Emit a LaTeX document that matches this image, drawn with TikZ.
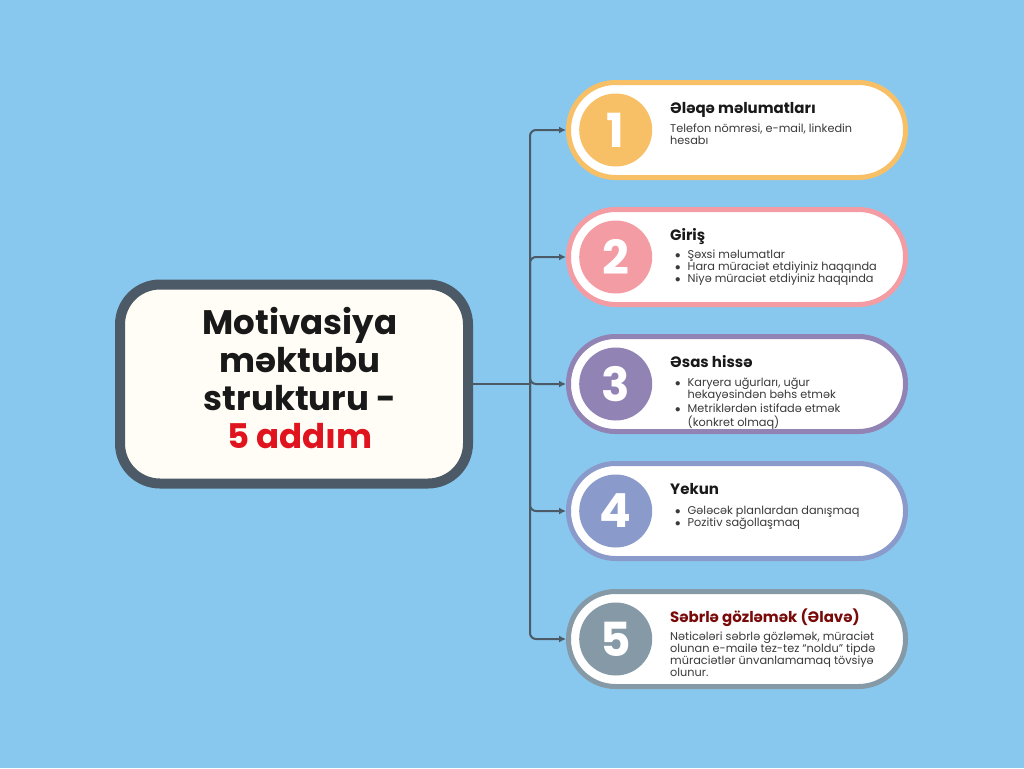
\documentclass[tikz,border=0pt]{standalone}
\usepackage{fontspec}
\setmainfont{Poppins}
\usetikzlibrary{arrows.meta,positioning}
\definecolor{sky}{HTML}{88C8EE}
\definecolor{slate}{HTML}{4B5A66}
\definecolor{cream}{HTML}{FFFDF5}
\definecolor{addred}{HTML}{E0141E}
\definecolor{darkred}{HTML}{7A0A0A}
\definecolor{bodygray}{HTML}{3A3A3A}
\definecolor{cyel}{HTML}{F7C067}
\definecolor{cpink}{HTML}{F39CA3}
\definecolor{cpurple}{HTML}{9283B5}
\definecolor{cblue}{HTML}{8A9ACB}
\definecolor{cgray}{HTML}{8599A6}
\newcommand{\dotitem}{$\bullet$}
\begin{document}
\begin{tikzpicture}[x=1pt, y=-1pt, line join=round, line cap=round,
    mainbox/.style={draw=slate, line width=10pt, fill=cream, rounded corners=40pt,
      minimum width=348pt, minimum height=199pt, inner sep=0pt,
      font=\fontsize{34}{38}\selectfont\bfseries, text=black!90},
    card/.style={draw=#1, line width=5pt, fill=white, rounded corners=47pt,
      minimum width=337pt, minimum height=95pt, inner sep=0pt},
    num/.style={circle, fill=#1, minimum size=73pt, inner sep=0pt, text=white,
      font=\fontsize{47}{47}\selectfont\bfseries},
    ttl/.style={anchor=base west, inner sep=0pt, font=\fontsize{15}{16}\selectfont\bfseries, text=black!90},
    txt/.style={anchor=base west, inner sep=0pt, font=\fontsize{11.3}{12.3}\selectfont, text=bodygray},
    link/.style={draw=slate, line width=2pt}]
  % background
  \fill[sky] (0,0) rectangle (1024,768);
  \useasboundingbox (0,0) rectangle (1024,768);
  % centre box
  \node[mainbox] (main) at (294,384)
    {\hspace{12pt}\begin{tabular}{@{}c@{}}Motivasiya\\məktubu\\strukturu -\\\textcolor{addred}{5 addım}\end{tabular}};
  % cards
  \node[card=cyel] (card1) at (737,130) {};
  \node[card=cpink] (card2) at (737,257) {};
  \node[card=cpurple] (card3) at (737,384) {};
  \node[card=cblue] (card4) at (737,511) {};
  \node[card=cgray] (card5) at (737,639) {};
  \node[num=cyel, right=13pt of card1.west] (num1) {1};
  \node[num=cpink, right=13pt of card2.west] (num2) {2};
  \node[num=cpurple, right=13pt of card3.west] (num3) {3};
  \node[num=cblue, right=13pt of card4.west] (num4) {4};
  \node[num=cgray, right=13pt of card5.west] (num5) {5};
  % titles
  \node[ttl] (ttl1) at ([xshift=104pt, yshift=17pt]card1.west) {Ələqə məlumatları};
  \node[ttl] (ttl2) at ([xshift=104pt, yshift=17pt]card2.west) {Giriş};
  \node[ttl] (ttl3) at ([xshift=104pt, yshift=17pt]card3.west) {Əsas hissə};
  \node[ttl] (ttl4) at ([xshift=104pt, yshift=17pt]card4.west) {Yekun};
  \node[ttl, text=darkred] (ttl5) at ([xshift=104pt, yshift=17pt]card5.west) {Səbrlə gözləmək (Əlavə)};
  % texts
  \node[txt] (txt1) at ([xshift=104pt, yshift=-2pt]card1.west)
    {\begin{tabular}[t]{@{}l@{}}Telefon nömrəsi, e-mail, linkedin\\hesabı\end{tabular}};
  \node[txt] (txt2) at ([xshift=104pt, yshift=-1pt]card2.west)
    {\begin{tabular}[t]{@{\hspace{5pt}}l@{\hspace{7pt}}l@{}}
      \dotitem & Şəxsi məlumatlar\\
      \dotitem & Hara müraciət etdiyiniz haqqında\\
      \dotitem & Niyə müraciət etdiyiniz haqqında\end{tabular}};
  \node[txt] (txt3) at ([xshift=104pt, yshift=-2pt]card3.west)
    {\begin{tabular}[t]{@{\hspace{5pt}}l@{\hspace{7pt}}l@{}}
      \dotitem & Karyera uğurları, uğur\\
      & hekayəsindən bəhs etmək\\[2pt]
      \dotitem & Metriklərdən istifadə etmək\\
      & (konkret olmaq)\end{tabular}};
  \node[txt] (txt4) at ([xshift=104pt, yshift=-3pt]card4.west)
    {\begin{tabular}[t]{@{\hspace{5pt}}l@{\hspace{7pt}}l@{}}
      \dotitem & Gələcək planlardan danışmaq\\
      \dotitem & Pozitiv sağollaşmaq\end{tabular}};
  \node[txt] (txt5) at ([xshift=104pt, yshift=-1pt]card5.west)
    {\begin{tabular}[t]{@{}l@{}}Nəticələri səbrlə gözləmək, müraciət\\
      olunan e-mailə tez-tez “noldu” tipdə\\
      müraciətlər ünvanlamamaq tövsiyə\\
      olunur.\end{tabular}};
  % connectors
  \coordinate (trunk) at (530,384);
  \draw[link] (main.east) -- (trunk);
  \foreach \i in {1,...,5}
    \draw[link, rounded corners=6pt, -{Latex[length=7pt,width=7pt]}] (trunk) |- (card\i.west);
\end{tikzpicture}
\end{document}
